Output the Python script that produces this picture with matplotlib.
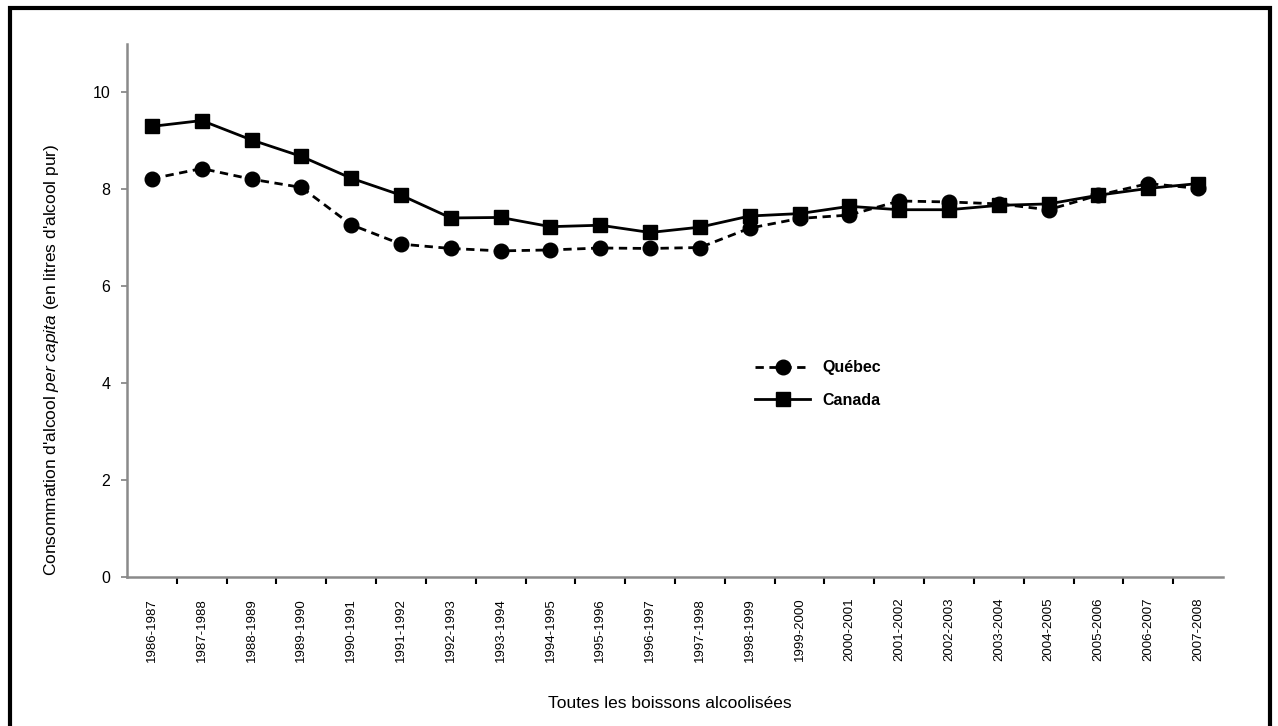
import matplotlib.pyplot as plt
from matplotlib.patches import Rectangle
from matplotlib import font_manager

periodes = [
    "1986-1987", "1987-1988", "1988-1989", "1989-1990", "1990-1991", "1991-1992",
    "1992-1993", "1993-1994", "1994-1995", "1995-1996", "1996-1997", "1997-1998",
    "1998-1999", "1999-2000", "2000-2001", "2001-2002", "2002-2003", "2003-2004",
    "2004-2005", "2005-2006", "2006-2007", "2007-2008",
]
quebec = [8.22, 8.43, 8.21, 8.04, 7.27, 6.87, 6.78, 6.73, 6.75, 6.79, 6.78, 6.80,
          7.20, 7.40, 7.47, 7.76, 7.74, 7.70, 7.58, 7.88, 8.12, 8.02]
canada = [9.30, 9.42, 9.02, 8.68, 8.23, 7.88, 7.41, 7.42, 7.23, 7.26, 7.11, 7.22,
          7.45, 7.50, 7.65, 7.58, 7.58, 7.67, 7.70, 7.88, 8.02, 8.12]
yticks = [0, 2, 4, 6, 8, 10]

installed = {f.name for f in font_manager.fontManager.ttflist}
narrow = "Liberation Sans Narrow" if "Liberation Sans Narrow" in installed else "Liberation Sans"
plt.rcParams["font.family"] = [narrow, "DejaVu Sans"]
plt.rcParams["mathtext.fontset"] = "custom"
plt.rcParams["mathtext.it"] = narrow + ":italic"
plt.rcParams["mathtext.rm"] = narrow

fig = plt.figure(figsize=(12.78, 7.26), dpi=100)
ax = fig.add_axes([127 / 1278, 1 - 577 / 726, (1223 - 127) / 1278, (577 - 44) / 726])

x = list(range(len(periodes)))
ax.plot(x, quebec, color="black", linestyle=(0, (3, 2)), linewidth=2,
        marker="o", markersize=10.5, label="Québec", zorder=3)
ax.plot(x, canada, color="black", linestyle="-", linewidth=2,
        marker="s", markersize=9.5, label="Canada", zorder=3)

ax.set_xlim(-0.5, len(periodes) - 0.5)
ax.set_ylim(0, 11)
ax.set_yticks(yticks)
ax.set_yticklabels([str(v) for v in yticks], fontsize=11.5)
ax.set_xticks(x)
ax.set_xticklabels(periodes, rotation=90, fontsize=9.5)
ax.set_xticks([i + 0.5 for i in range(len(periodes) - 1)], minor=True)
ax.tick_params(axis="x", which="major", length=0, pad=15)
ax.tick_params(axis="x", which="minor", length=5, width=1.5, color="black", direction="out")
ax.tick_params(axis="y", length=4, width=1.2, color="#808080", pad=8)

for side in ["top", "right"]:
    ax.spines[side].set_visible(False)
for side in ["left", "bottom"]:
    ax.spines[side].set_color("#8a8a8a")
    ax.spines[side].set_linewidth(1.8)

fig.text(52 / 1278, 1 - 360 / 726,
         r"Consommation d'alcool $\it{per\ capita}$ (en litres d'alcool pur)",
         rotation=90, ha="center", va="center", fontsize=12.5)
fig.text(670 / 1278, 1 - 703 / 726, "Toutes les boissons alcoolisées",
         ha="center", va="center", fontsize=12.5)

leg = ax.legend(loc="center left", bbox_to_anchor=(741 / 1278, 1 - 384 / 726),
                bbox_transform=fig.transFigure, frameon=False, handlelength=3.4,
                labelspacing=1.1, prop={"weight": "bold", "size": 11.5})

fig.patches.append(Rectangle((10 / 1278, -0.02), (1270 - 10) / 1278, 1.02 - 8 / 726,
                             transform=fig.transFigure, fill=False,
                             edgecolor="black", linewidth=3, clip_on=False))

fig.savefig("out.png", dpi=100)
